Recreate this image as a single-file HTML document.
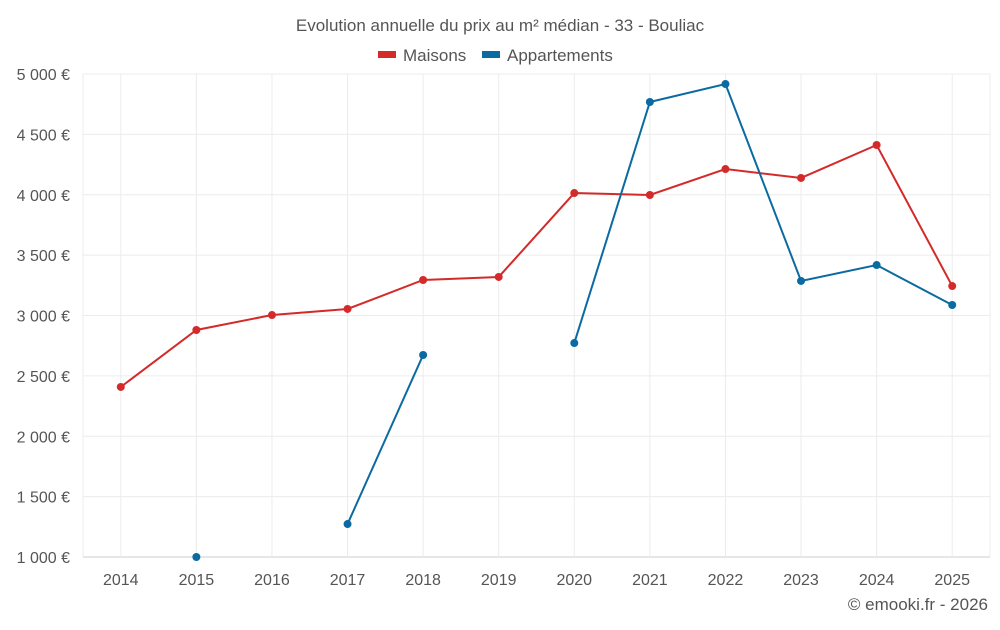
<!DOCTYPE html>
<html><head><meta charset="utf-8"><style>
body{margin:0;background:#fff;font-family:"Liberation Sans",sans-serif;}
svg text{font-family:"Liberation Sans",sans-serif;fill:#555;}
</style></head><body>
<svg id="chart" width="1000" height="625" xmlns="http://www.w3.org/2000/svg">
<text x="500" y="31" text-anchor="middle" font-size="17">Evolution annuelle du prix au m² médian - 33 - Bouliac</text>
<g>
<g><rect x="378" y="51" width="18" height="7" fill="#d42a2a"/><text x="403" y="61" font-size="17">Maisons</text></g>
<g><rect x="482" y="51" width="18" height="7" fill="#0a6aa1"/><text x="507" y="61" font-size="17">Appartements</text></g>
</g>
<g id="grid"></g>
<g id="axes"></g>
<g id="series"></g>
<text x="988" y="610" text-anchor="end" font-size="17">© emooki.fr - 2026</text>
</svg>
<script>
const years=[2014,2015,2016,2017,2018,2019,2020,2021,2022,2023,2024,2025];
const maisons=[2408,2880,3004,3054,3294,3319,4014,3998,4213,4139,4412,3244];
const appartements=[null,1000,null,1273,2673,null,2772,4768,4917,3286,3418,3087];
const yTicks=[1000,1500,2000,2500,3000,3500,4000,4500,5000];
const yTickLabels=["1 000 €","1 500 €","2 000 €","2 500 €","3 000 €","3 500 €","4 000 €","4 500 €","5 000 €"];
const NS="http://www.w3.org/2000/svg";
const L=83,R=990,T=74,B=557,ymin=1000,ymax=5000;
const step=(R-L)/years.length;
const x=i=>L+step*(i+0.5);
const y=v=>B-(v-ymin)/(ymax-ymin)*(B-T);
function mk(tag,at,parent){const e=document.createElementNS(NS,tag);for(const k in at)e.setAttribute(k,at[k]);parent.appendChild(e);return e;}
const grid=document.getElementById('grid'),axes=document.getElementById('axes'),series=document.getElementById('series');
yTicks.forEach((t,i)=>{
 const l=mk('line',{x1:L,x2:R,y1:y(t),y2:y(t),stroke:i===0?'#ccc':'#ececec','stroke-width':1},grid);
 
 
 const tx=mk('text',{x:70,y:y(t)+6,'text-anchor':'end','font-size':16},axes);
 tx.textContent=yTickLabels[i];
 
 
});
[L,R].concat(years.map((_,i)=>x(i))).forEach(px=>{
 const l=mk('line',{x1:px,x2:px,y1:T,y2:B,stroke:'#ececec','stroke-width':1},grid);
 
 
});
years.forEach((yr,i)=>{
 const tx=mk('text',{x:x(i),y:585,'text-anchor':'middle','font-size':16},axes);
 tx.textContent=yr;
 
 
});
function draw(vals,color,name){
 let seg=[];const segs=[];
 vals.forEach((v,i)=>{if(v==null){if(seg.length)segs.push(seg);seg=[];}else seg.push([x(i),y(v)]);});
 if(seg.length)segs.push(seg);
 segs.forEach(s=>{if(s.length>1){const p=mk('polyline',{points:s.map(q=>q.join(',')).join(' '),fill:'none',stroke:color,'stroke-width':2},series);
 
 }});
 vals.forEach((v,i)=>{if(v==null)return;const c=mk('circle',{cx:x(i),cy:y(v),r:4,fill:color},series);
 
 });
}
draw(maisons,'#d42a2a','maisons');
draw(appartements,'#0a6aa1','appartements');
</script>
</body></html>
